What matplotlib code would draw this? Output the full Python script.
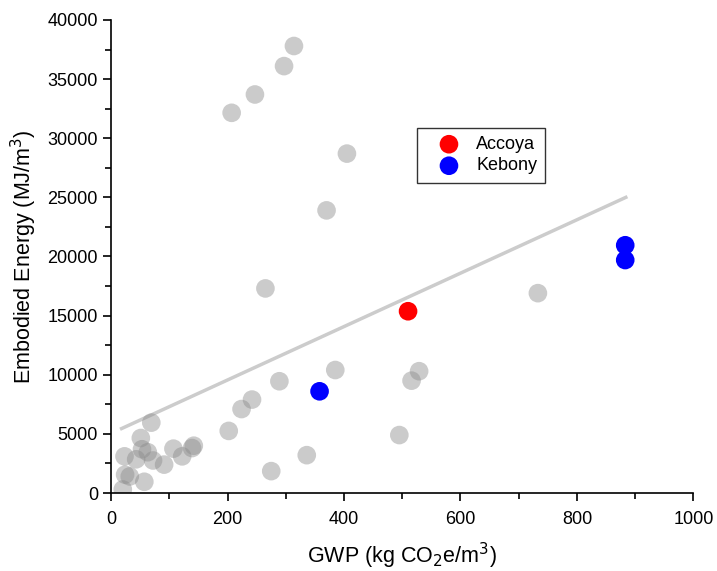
import numpy as np
import matplotlib.pyplot as plt
from matplotlib.ticker import MultipleLocator

plt.rcParams['font.family'] = ['Liberation Sans', 'DejaVu Sans']

# other woods (grey)
gwp_other = [314, 297, 247, 207, 405, 370, 265, 733, 385, 529, 516, 289, 242, 224,
             202, 495, 336, 275, 69, 51, 53, 63, 43, 23, 72, 91, 107, 122, 139, 142,
             24, 32, 57, 20]
ee_other = [37800, 36100, 33700, 32150, 28700, 23900, 17300, 16900, 10400, 10300,
            9500, 9450, 7900, 7100, 5250, 4900, 3200, 1850, 5950, 4650, 3700, 3450,
            2850, 3100, 2750, 2400, 3750, 3100, 3800, 4000, 1550, 1400, 950, 300]

gwp_accoya = [510]
ee_accoya = [15370]

gwp_kebony = [358, 883, 883]
ee_kebony = [8600, 20950, 19700]

trend_x = [18, 884]
trend_y = [5450, 25000]

fig = plt.figure(figsize=(7.17, 5.71), dpi=100)
ax = fig.add_axes([0.155, 0.1366, 0.812, 0.8284])

ax.plot(trend_x, trend_y, color='#cccccc', lw=2.5, zorder=1)
ax.scatter(gwp_other, ee_other, s=180, color='#8c8c8c', alpha=0.45,
           edgecolors='none', zorder=2)
ax.scatter(gwp_accoya, ee_accoya, s=180, color='#ff0000', edgecolors='none',
           zorder=3, label='Accoya')
ax.scatter(gwp_kebony, ee_kebony, s=180, color='#0000ff', edgecolors='none',
           zorder=3, label='Kebony')

ax.set_xlim(0, 1000)
ax.set_ylim(0, 40000)
ax.xaxis.set_major_locator(MultipleLocator(200))
ax.xaxis.set_minor_locator(MultipleLocator(100))
ax.yaxis.set_major_locator(MultipleLocator(5000))
ax.yaxis.set_minor_locator(MultipleLocator(2500))
ax.spines['top'].set_visible(False)
ax.spines['right'].set_visible(False)
for s in ['left', 'bottom']:
    ax.spines[s].set_linewidth(1.2)
ax.tick_params(which='major', direction='out', length=6, width=1.2, labelsize=13)
ax.tick_params(axis='x', which='major', pad=7)
ax.tick_params(which='minor', direction='out', length=4, width=1.2)

ax.set_xlabel('GWP (kg CO$_2$e/m$^3$)', fontsize=15.5, labelpad=9)
ax.set_ylabel('Embodied Energy (MJ/m$^3$)', fontsize=15.5, labelpad=6)

leg = ax.legend(loc='upper left', bbox_to_anchor=(0.526, 0.772), fontsize=13,
                frameon=True, fancybox=False, edgecolor='black',
                handlelength=2.6, handletextpad=0.2, borderpad=0.45,
                labelspacing=0.25, borderaxespad=0, scatterpoints=1)
leg.get_frame().set_linewidth(1.0)

fig.savefig('out.png', dpi=100)
